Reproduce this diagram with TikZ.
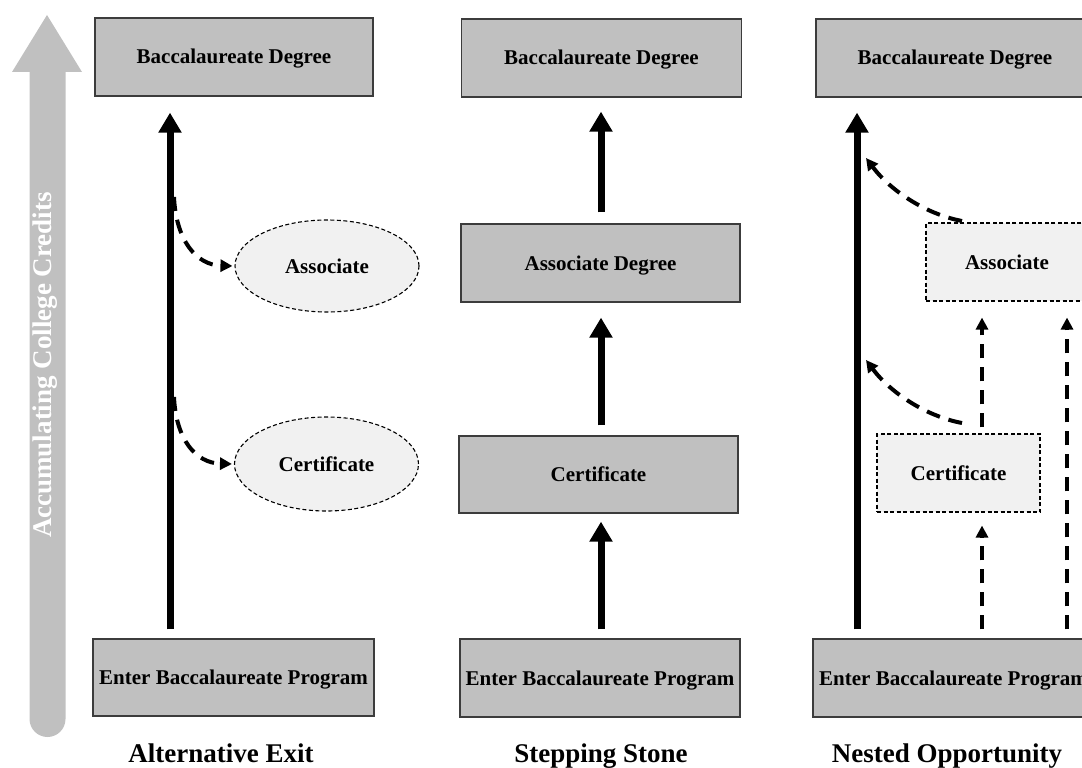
\documentclass[tikz,border=0pt]{standalone}
\usepackage{fontspec}
\setmainfont{Liberation Serif}
\usetikzlibrary{arrows.meta,shapes.geometric}
\definecolor{boxgray}{RGB}{192,192,192}
\definecolor{lightbox}{RGB}{241,241,241}
\definecolor{bordergray}{RGB}{60,60,60}
\definecolor{creditgray}{RGB}{192,192,192}
\begin{document}
\begin{tikzpicture}[x=1pt,y=-1pt,
  boxtext/.style={font=\fontsize{21}{24}\selectfont\bfseries, align=center, text height=14pt, text depth=0pt},
  solidbox/.style={boxtext, draw=bordergray, line width=1.2pt, fill=boxgray, inner sep=0pt},
  dashbox/.style={boxtext, draw=black, line width=1.1pt, dash pattern=on 4pt off 2.5pt, fill=lightbox, inner sep=0pt},
  dashell/.style={dashbox, ellipse},
  bigarrow/.style={line width=7pt, -{Triangle[length=20pt,width=22pt]}},
  dasharrow/.style={line width=4pt, dash pattern=on 14pt off 9pt, -{Triangle[length=12pt,width=12pt]}},
  coltitle/.style={font=\fontsize{27}{30}\selectfont\bfseries, anchor=base}
]
\useasboundingbox (0,0) rectangle (1082,768);
\clip (0,0) rectangle (1082,768);

% big gray "accumulating credits" arrow
\fill[creditgray] (29.5,72) -- (12,72) -- (47,15) -- (82,72) -- (65.5,72) -- (65.5,719)
  arc[start angle=0, end angle=180, radius=18] -- cycle;
\node[rotate=90, text=white, font=\fontsize{27}{30}\selectfont\bfseries] (credits) at (45,365) {Accumulating College Credits};

% ---------- Column 1: Alternative Exit ----------
\node[solidbox, minimum width=278pt, minimum height=78pt] (bac1) at (234,57) {Baccalaureate Degree};
\node[solidbox, minimum width=281pt, minimum height=77pt] (enter1) at (233.5,677.5) {Enter Baccalaureate Program};
\node[dashell, minimum width=184pt, minimum height=92pt] (assoc1) at (327,266) {Associate};
\node[dashell, minimum width=184pt, minimum height=94pt] (cert1) at (326.5,464) {Certificate};
\coordinate (c1x) at (170,0);
\draw[bigarrow, shorten <=9pt, shorten >=16pt] (enter1.north -| c1x) -- (bac1.south -| c1x);
\coordinate (s1a) at (174,197);
\coordinate (s1b) at (174,397);
\draw[dasharrow] (s1a) .. controls (176,240) and (196,265) .. ([xshift=-2pt]assoc1.west);
\draw[dasharrow] (s1b) .. controls (176,440) and (196,463) .. ([xshift=-2pt]cert1.west);
\node[coltitle] (t1) at (221,762) {Alternative Exit};

% ---------- Column 2: Stepping Stone ----------
\node[solidbox, minimum width=280pt, minimum height=78pt] (bac2) at (601.5,58) {Baccalaureate Degree};
\node[solidbox, minimum width=279pt, minimum height=78pt] (assoc2) at (600.5,263) {Associate Degree};
\node[solidbox, minimum width=279pt, minimum height=77pt] (cert2) at (598.5,474.5) {Certificate};
\node[solidbox, minimum width=280pt, minimum height=78pt] (enter2) at (600,678) {Enter Baccalaureate Program};
\coordinate (c2x) at (601,0);
\draw[bigarrow, shorten <=9pt, shorten >=8pt] (enter2.north -| c2x) -- (cert2.south -| c2x);
\draw[bigarrow, shorten <=10pt, shorten >=15pt] (cert2.north -| c2x) -- (assoc2.south -| c2x);
\draw[bigarrow, shorten <=11pt, shorten >=14pt] (assoc2.north -| c2x) -- (bac2.south -| c2x);
\node[coltitle] (t2) at (601,762) {Stepping Stone};

% ---------- Column 3: Nested Opportunity ----------
\node[solidbox, minimum width=278pt, minimum height=78pt] (bac3) at (955,58) {Baccalaureate Degree};
\node[dashbox, minimum width=162pt, minimum height=78pt] (assoc3) at (1007,262) {Associate};
\node[dashbox, minimum width=163pt, minimum height=78pt] (cert3) at (958.5,473) {Certificate};
\node[solidbox, minimum width=281pt, minimum height=78pt] (enter3) at (953.5,678) {Enter Baccalaureate Program};
\coordinate (c3x) at (857,0);
\coordinate (d3a) at (982,0);
\coordinate (d3b) at (1067,0);
\draw[bigarrow, shorten <=9pt, shorten >=15pt] (enter3.north -| c3x) -- (bac3.south -| c3x);
\draw[dasharrow, shorten <=9pt, shorten >=13pt] (enter3.north -| d3a) -- (cert3.south -| d3a);
\draw[dasharrow, shorten <=6pt, shorten >=16pt] (cert3.north -| d3a) -- (assoc3.south -| d3a);
\draw[dasharrow, shorten <=9pt, shorten >=16pt] (enter3.north -| d3b) -- (assoc3.south -| d3b);
\coordinate (s3a) at (962,221);
\coordinate (e3a) at (866,158);
\coordinate (s3b) at (962,423);
\coordinate (e3b) at (866,360);
\draw[dasharrow] (s3a) .. controls (925,214) and (890,190) .. (e3a);
\draw[dasharrow] (s3b) .. controls (925,416) and (890,392) .. (e3b);
\node[coltitle] (t3) at (947,762) {Nested Opportunity};
\end{tikzpicture}
\end{document}
